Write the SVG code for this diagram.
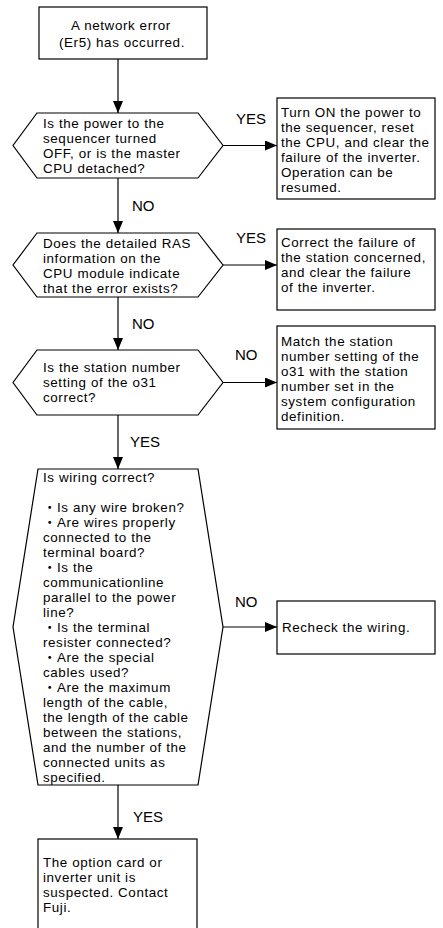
<svg xmlns="http://www.w3.org/2000/svg" width="443" height="928" viewBox="0 0 443 928">
<defs>
<marker id="ah" viewBox="0 0 12 10" refX="12" refY="5" markerWidth="12" markerHeight="10" markerUnits="userSpaceOnUse" orient="auto">
<path d="M0,0 L12,5 L0,10 Z" fill="#000"/>
</marker>
<style>
.s{fill:#fff;stroke:#000;stroke-width:1.2}
.t{font-family:"Liberation Sans","Noto Sans CJK JP",Arial,sans-serif;font-size:13.4px;letter-spacing:0.6px;fill:#000}
.l{font-family:"Liberation Sans",Arial,sans-serif;font-size:15px;fill:#000}
.c{fill:none;stroke:#000;stroke-width:1.2}
</style>
</defs>
<rect width="443" height="928" fill="#fff"/>
<g id="connectors">
<line class="c" x1="118" y1="59" x2="118" y2="113" marker-end="url(#ah)"/>
<line class="c" x1="118" y1="178" x2="118" y2="233" marker-end="url(#ah)"/>
<line class="c" x1="118" y1="297" x2="118" y2="350" marker-end="url(#ah)"/>
<line class="c" x1="118" y1="415" x2="118" y2="469" marker-end="url(#ah)"/>
<line class="c" x1="118" y1="785" x2="118" y2="839" marker-end="url(#ah)"/>
<line class="c" x1="223" y1="145.5" x2="277" y2="145.5" marker-end="url(#ah)"/>
<line class="c" x1="223" y1="265" x2="277" y2="265" marker-end="url(#ah)"/>
<line class="c" x1="223" y1="382.5" x2="277" y2="382.5" marker-end="url(#ah)"/>
<line class="c" x1="223" y1="627" x2="277" y2="627" marker-end="url(#ah)"/>
<text class="l" x="236" y="124">YES</text>
<text class="l" x="132" y="211">NO</text>
<text class="l" x="236" y="243">YES</text>
<text class="l" x="132" y="329">NO</text>
<text class="l" x="235" y="360">NO</text>
<text class="l" x="130" y="447">YES</text>
<text class="l" x="235" y="607">NO</text>
<text class="l" x="133" y="822">YES</text>
</g>
<g id="start">
<rect class="s" x="39" y="7" width="168" height="52"/>
<text class="t" text-anchor="middle" x="121" y="30">A network error</text>
<text class="t" text-anchor="middle" x="122" y="47">(Er5) has occurred.</text>
</g>
<g id="q1">
<polygon class="s" points="37,113 198,113 223,145.5 198,178 37,178 13,145.5"/>
<text class="t"><tspan x="43" y="128">Is the power to the</tspan><tspan x="43" y="143">sequencer turned</tspan><tspan x="43" y="158">OFF, or is the master</tspan><tspan x="43" y="173">CPU detached?</tspan></text>
</g>
<g id="a1">
<rect class="s" x="277" y="98" width="158" height="101"/>
<text class="t"><tspan x="281" y="117">Turn ON the power to</tspan><tspan x="281" y="132">the sequencer, reset</tspan><tspan x="281" y="147">the CPU, and clear the</tspan><tspan x="281" y="162">failure of the inverter.</tspan><tspan x="281" y="177">Operation can be</tspan><tspan x="281" y="192">resumed.</tspan></text>
</g>
<g id="q2">
<polygon class="s" points="37,233 198,233 223,265 198,297 37,297 13,265"/>
<text class="t"><tspan x="43" y="248">Does the detailed RAS</tspan><tspan x="43" y="263">information on the</tspan><tspan x="43" y="278">CPU module indicate</tspan><tspan x="43" y="293">that the error exists?</tspan></text>
</g>
<g id="a2">
<rect class="s" x="277" y="229" width="158" height="81"/>
<text class="t"><tspan x="281" y="247">Correct the failure of</tspan><tspan x="281" y="262">the station concerned,</tspan><tspan x="281" y="277">and clear the failure</tspan><tspan x="281" y="292">of the inverter.</tspan></text>
</g>
<g id="q3">
<polygon class="s" points="37,350 198,350 223,382.5 198,415 37,415 13,382.5"/>
<text class="t"><tspan x="43" y="372">Is the station number</tspan><tspan x="43" y="387">setting of the o31</tspan><tspan x="43" y="402">correct?</tspan></text>
</g>
<g id="a3">
<rect class="s" x="277" y="326" width="158" height="103"/>
<text class="t"><tspan x="281" y="346">Match the station</tspan><tspan x="281" y="361">number setting of the</tspan><tspan x="281" y="376">o31 with the station</tspan><tspan x="281" y="391">number set in the</tspan><tspan x="281" y="406">system  configuration</tspan><tspan x="281" y="421">definition.</tspan></text>
</g>
<g id="q4">
<polygon class="s" points="38,469 198,469 223,627 198,785 38,785 13,627"/>
<text class="t"><tspan x="43" y="482">Is wiring correct?</tspan><tspan x="43" y="512">・Is any wire broken?</tspan><tspan x="43" y="527">・Are wires properly</tspan><tspan x="43" y="542">connected to the</tspan><tspan x="43" y="557">terminal board?</tspan><tspan x="43" y="572">・Is the</tspan><tspan x="43" y="587">communicationline</tspan><tspan x="43" y="602">parallel to the power</tspan><tspan x="43" y="617">line?</tspan><tspan x="43" y="632">・Is the terminal</tspan><tspan x="43" y="647">resister connected?</tspan><tspan x="43" y="662">・Are the special</tspan><tspan x="43" y="677">cables used?</tspan><tspan x="43" y="692">・Are the maximum</tspan><tspan x="43" y="707">length of the cable,</tspan><tspan x="43" y="722">the length of the cable</tspan><tspan x="43" y="737">between the stations,</tspan><tspan x="43" y="752">and the number of the</tspan><tspan x="43" y="767">connected units as</tspan><tspan x="43" y="782">specified.</tspan></text>
</g>
<g id="a4">
<rect class="s" x="277" y="601" width="158" height="53"/>
<text class="t" x="282" y="632">Recheck the wiring.</text>
</g>
<g id="end">
<rect class="s" x="38" y="839" width="159" height="92"/>
<text class="t"><tspan x="43" y="867">The option card or</tspan><tspan x="43" y="882">inverter unit is</tspan><tspan x="43" y="897">suspected.  Contact</tspan><tspan x="43" y="912">Fuji.</tspan></text>
</g>
</svg>
